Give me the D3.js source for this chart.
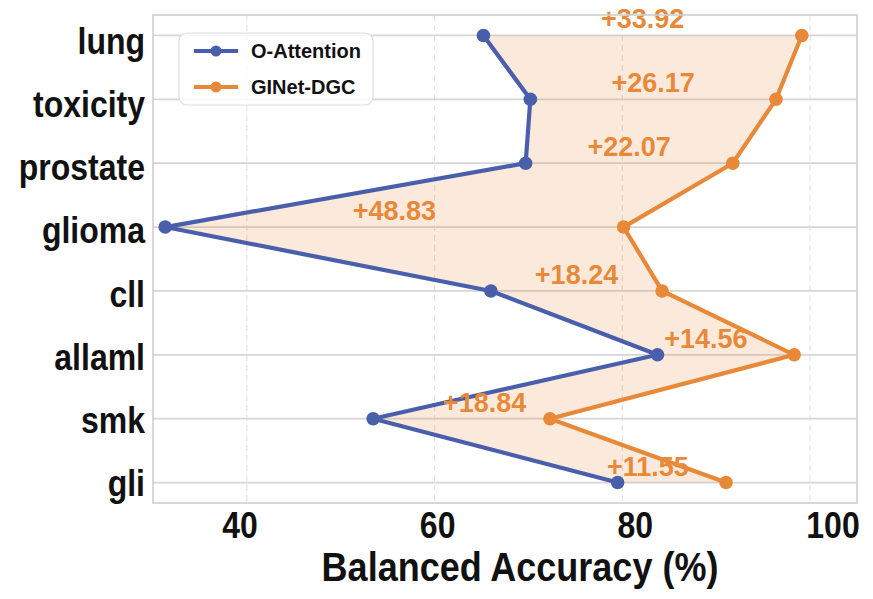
<!DOCTYPE html>
<html>
<head>
<meta charset="utf-8">
<script src="https://cdn.jsdelivr.net/npm/d3@7"></script>
<style>
  html, body { margin: 0; padding: 0; background: #ffffff; }
  svg text { font-family: "Liberation Sans", Arial, Helvetica, sans-serif; font-weight: bold; }
</style>
</head>
<body>
<svg id="chart" width="873" height="599"></svg>
<script>
// ---- data ----
const categories = ["lung", "toxicity", "prostate", "glioma", "cll", "allaml", "smk", "gli"];
const oAttention = [65.20, 70.20, 69.70, 31.30, 66.00, 83.75, 53.45, 79.50];
const ginetDGC   = [99.12, 96.37, 91.77, 80.13, 84.24, 98.31, 72.29, 91.05];
const gainLabels = ["+33.92", "+26.17", "+22.07", "+48.83", "+18.24", "+14.56", "+18.84", "+11.55"];
const xTicks = [40, 60, 80, 100];
const seriesNames = ["O-Attention", "GINet-DGC"];
const xTitle = "Balanced Accuracy (%)";

// ---- style ----
const BLUE = "#4a5fab";
const ORANGE = "#e8893a";
const plot = { left: 153, right: 857, top: 15, bottom: 503 };
const STRETCH = 1.13; // reference text is slightly tall
// horizontal nudges (px) of gain annotations that were moved off the midpoint in the reference
const gainNudge = { allaml: -20, smk: 23, gli: -24 };

const svg = d3.select("#chart");

const x = d3.scaleLinear().domain([30, 105]).range([plot.left, plot.right]);
const y = d3.scalePoint().domain(categories).range([plot.top, plot.bottom]).padding(0.32);
// tick / category label placement (reference labels sit slightly off the grid)
const xLabel = d3.scaleLinear().domain([40, 100]).range([240, 833]);
const yLabel = d3.scalePoint().domain(categories).range([plot.top + 39, plot.bottom - 7]);

// vertical dashed grid
svg.append("g").selectAll("line").data(xTicks).join("line")
  .attr("x1", d => x(d)).attr("x2", d => x(d))
  .attr("y1", plot.top).attr("y2", plot.bottom)
  .attr("stroke", "#e3e3e3").attr("stroke-width", 1.2)
  .attr("stroke-dasharray", "6,4");

// horizontal grid
svg.append("g").selectAll("line").data(categories).join("line")
  .attr("x1", plot.left).attr("x2", plot.right)
  .attr("y1", d => y(d)).attr("y2", d => y(d))
  .attr("stroke", "#d6d6d6").attr("stroke-width", 1.8);

// fill between
const rows = categories.map((c, i) => ({ c, o: oAttention[i], g: ginetDGC[i], lab: gainLabels[i] }));
const area = d3.area()
  .y(d => y(d.c))
  .x0(d => x(d.o))
  .x1(d => x(d.g));
svg.append("path").datum(rows)
  .attr("d", area)
  .attr("fill", ORANGE).attr("fill-opacity", 0.18);

// lines
const lineO = d3.line().x(d => x(d.o)).y(d => y(d.c));
const lineG = d3.line().x(d => x(d.g)).y(d => y(d.c));
svg.append("path").datum(rows).attr("d", lineO)
  .attr("fill", "none").attr("stroke", BLUE).attr("stroke-width", 4.2).attr("stroke-linejoin", "round");
svg.append("path").datum(rows).attr("d", lineG)
  .attr("fill", "none").attr("stroke", ORANGE).attr("stroke-width", 4.2).attr("stroke-linejoin", "round");

// markers
svg.append("g").selectAll("circle").data(rows).join("circle")
  .attr("cx", d => x(d.o)).attr("cy", d => y(d.c)).attr("r", 6.8).attr("fill", BLUE);
svg.append("g").selectAll("circle").data(rows).join("circle")
  .attr("cx", d => x(d.g)).attr("cy", d => y(d.c)).attr("r", 6.8).attr("fill", ORANGE);

// gain labels
svg.append("g").selectAll("text").data(rows).join("text")
  .attr("x", d => x((d.o + d.g) / 2) + (gainNudge[d.c] || 0))
  .attr("y", d => y(d.c) - 7)
  .attr("text-anchor", "middle")
  .attr("font-size", 27)
  .attr("fill", ORANGE)
  .text(d => d.lab);

// plot frame
svg.append("rect")
  .attr("x", plot.left).attr("y", plot.top)
  .attr("width", plot.right - plot.left).attr("height", plot.bottom - plot.top)
  .attr("fill", "none").attr("stroke", "#cfcfcf").attr("stroke-width", 1.6);

// y category labels
svg.append("g").selectAll("text").data(categories).join("text")
  .attr("transform", d => `translate(145,${yLabel(d)}) scale(1,${STRETCH})`)
  .attr("text-anchor", "end")
  .attr("font-size", 32)
  .attr("fill", "#111")
  .text(d => d);

// x tick labels
svg.append("g").selectAll("text").data(xTicks).join("text")
  .attr("transform", d => `translate(${xLabel(d)},538) scale(1,${STRETCH})`)
  .attr("text-anchor", "middle")
  .attr("font-size", 32)
  .attr("fill", "#111")
  .text(d => d);

// x title
svg.append("text")
  .attr("transform", `translate(520,581) scale(1,${STRETCH})`)
  .attr("text-anchor", "middle")
  .attr("font-size", 36)
  .attr("fill", "#111")
  .text(xTitle);

// legend
const lg = svg.append("g");
lg.append("rect")
  .attr("x", 179).attr("y", 33).attr("width", 194).attr("height", 72)
  .attr("rx", 8).attr("ry", 8)
  .attr("fill", "#ffffff").attr("fill-opacity", 0.85)
  .attr("stroke", "#dddddd").attr("stroke-width", 1.2);
const legendItems = [{ name: seriesNames[0], color: BLUE }, { name: seriesNames[1], color: ORANGE }];
const li = lg.selectAll("g.item").data(legendItems).join("g")
  .attr("class", "item")
  .attr("transform", (d, i) => `translate(0, ${51 + i * 36})`);
li.append("line").attr("x1", 194).attr("x2", 238).attr("y1", 0).attr("y2", 0)
  .attr("stroke", d => d.color).attr("stroke-width", 4);
li.append("circle").attr("cx", 216).attr("cy", 0).attr("r", 5.5).attr("fill", d => d.color);
li.append("text").attr("x", 251).attr("y", 7)
  .attr("font-size", 20).attr("fill", "#111")
  .text(d => d.name);
</script>
</body>
</html>
